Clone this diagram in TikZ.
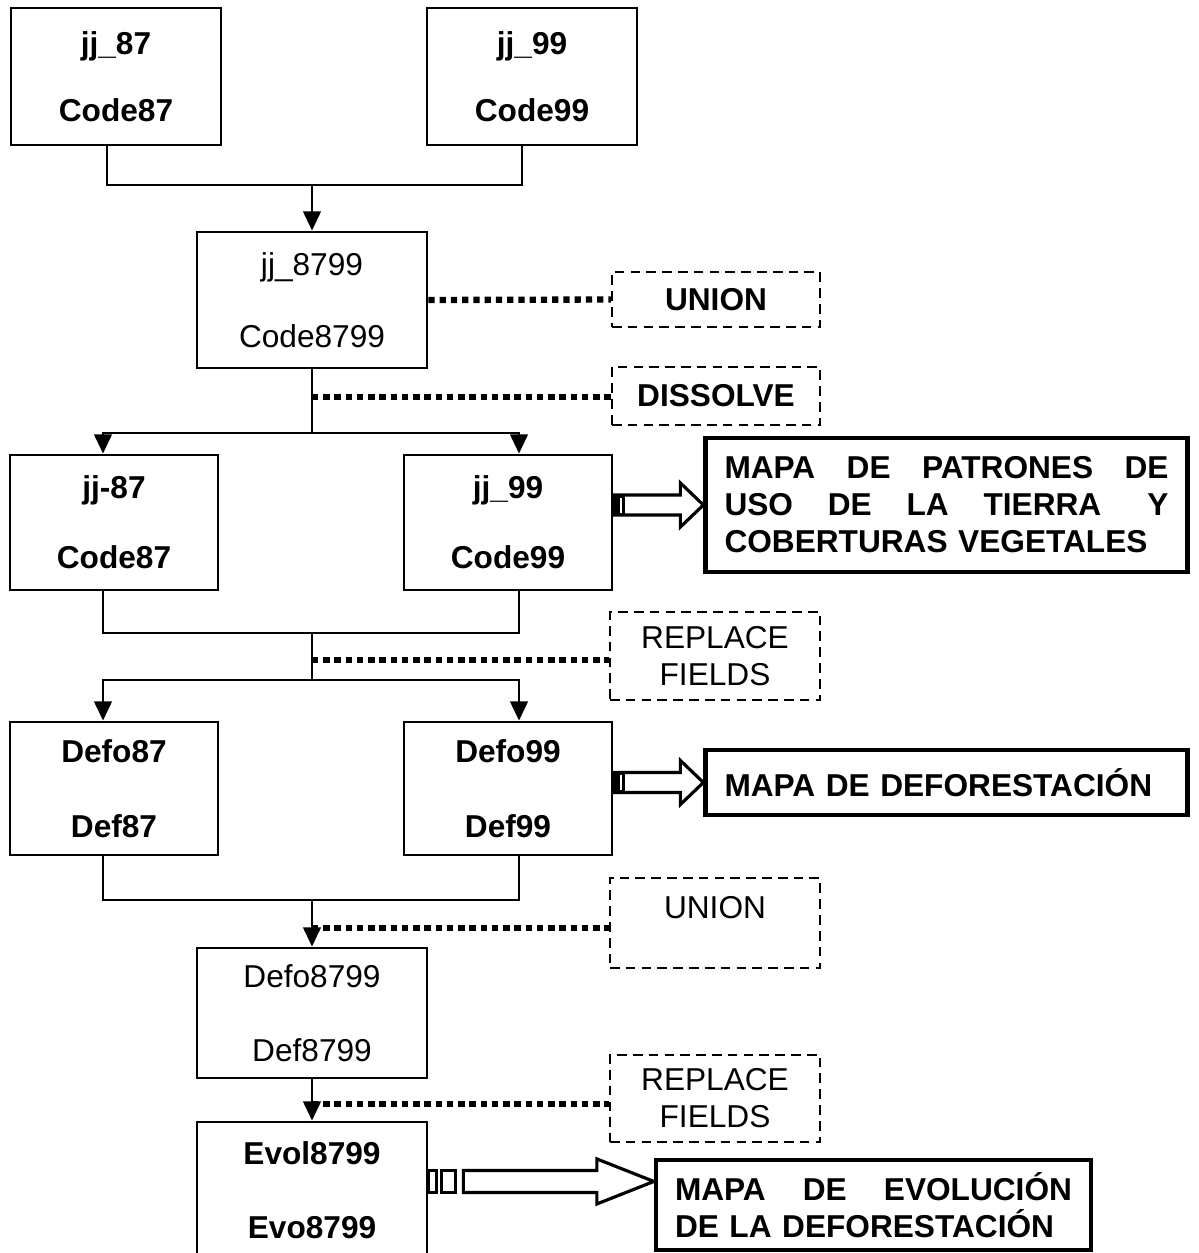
\documentclass[tikz,border=0pt]{standalone}
\usepackage{fontspec}
\setmainfont{Liberation Sans}
\usepackage{tikz}
\usetikzlibrary{arrows.meta,positioning,calc}

\tikzset{
  box/.style={draw, line width=1.6pt, align=center, inner sep=0pt,
    font=\fontsize{18}{21}\selectfont},
  bbox/.style={box, font=\fontsize{18}{21}\selectfont\bfseries},
  opbox/.style={draw, line width=1.3pt, dash pattern=on 5.5pt off 3.5pt,
    align=center, font=\fontsize{18}{21}\selectfont},
  bopbox/.style={opbox, font=\fontsize{18}{21}\selectfont\bfseries},
  mapbox/.style={draw, line width=2.4pt, align=left, inner xsep=0.38cm,
    font=\fontsize{18}{21}\selectfont\bfseries},
  link/.style={line width=1.6pt},
  linkarrow/.style={link, -{Triangle[length=11pt,width=10pt]}},
  dotline/.style={line width=3.6pt, dash pattern=on 3.6pt off 2.8pt},
  hollow/.style={line width=1.8pt, line join=miter}
}

\begin{document}
\begin{tikzpicture}
  \useasboundingbox (0,0) rectangle (23.96,-25.06);
  \clip (0,0) rectangle (23.96,-25.06);

  % layers
  \node (j87) [bbox, minimum width=4.2cm, minimum height=2.74cm] at (2.32,-1.53) {jj\_87\\[17pt]Code87};
  \node (j99) [bbox, minimum width=4.2cm, minimum height=2.74cm] at (10.64,-1.53) {jj\_99\\[17pt]Code99};
  \node (j8799) [box, minimum width=4.6cm, minimum height=2.72cm] at (6.24,-6.0) {jj\_8799\\[20pt]Code8799};
  \node (j87b) [bbox, minimum width=4.16cm, minimum height=2.7cm] at (2.28,-10.45) {jj-87\\[19pt]Code87};
  \node (j99b) [bbox, minimum width=4.16cm, minimum height=2.7cm] at (10.16,-10.45) {jj\_99\\[19pt]Code99};
  \node (defo87) [bbox, minimum width=4.16cm, minimum height=2.66cm] at (2.28,-15.77) {Defo87\\[22pt]Def87};
  \node (defo99) [bbox, minimum width=4.16cm, minimum height=2.66cm] at (10.16,-15.77) {Defo99\\[22pt]Def99};
  \node (defo8799) [box, minimum width=4.6cm, minimum height=2.6cm] at (6.24,-20.26) {Defo8799\\[21pt]Def8799};
  \node (evol) [bbox, minimum width=4.6cm, minimum height=2.72cm] at (6.24,-23.8) {Evol8799\\[21pt]Evo8799};

  % operations
  \node (uni1) [bopbox, minimum width=4.16cm, minimum height=1.1cm] at (14.32,-5.99) {UNION};
  \node (dis) [bopbox, minimum width=4.16cm, minimum height=1.16cm] at (14.32,-7.92) {DISSOLVE};
  \node (rep1) [opbox, minimum width=4.2cm, minimum height=1.76cm] at (14.3,-13.12) {REPLACE\\FIELDS};
  \node (uni2) [opbox, minimum width=4.2cm, inner ysep=6pt, text height=17pt, text depth=22pt] at (14.3,-18.46) {UNION};
  \node (rep2) [opbox, minimum width=4.2cm, minimum height=1.74cm] at (14.3,-21.97) {REPLACE\\FIELDS};

  % maps
  \node (mapa1) [mapbox, text width=8.88cm, minimum height=2.68cm] at (18.93,-10.1)
    {MAPA\hfill DE\hfill PATRONES\hfill DE\\USO\hspace{1.1em}DE\hspace{1.1em}LA\hspace{1.1em}TIERRA\hfill Y\\COBERTURAS VEGETALES};
  \node (mapa2) [mapbox, text width=8.88cm, minimum height=1.3cm] at (18.93,-15.65) {MAPA DE DEFORESTACIÓN};
  \node (mapa3) [mapbox, text width=7.94cm, minimum height=1.8cm] at (17.47,-24.1)
    {MAPA\hfill DE\hfill EVOLUCIÓN\\DE LA DEFORESTACIÓN};

  % junctions
  \coordinate (t1) at (6.24,-3.7);
  \coordinate (s1) at (6.24,-8.66);
  \coordinate (d1) at (6.24,-7.94);
  \coordinate (s2) at (6.24,-12.66);
  \coordinate (s3) at (6.24,-13.6);
  \coordinate (d2) at (6.24,-13.2);
  \coordinate (s4) at (6.24,-18.0);
  \coordinate (d3) at (6.24,-18.56);
  \coordinate (d4) at (6.24,-22.08);

  \draw [link] ([xshift=-0.18cm]j87.south) |- (t1) -| ([xshift=-0.2cm]j99.south);
  \draw [linkarrow] (t1) -- (j8799);
  \draw [link] (j8799.south) -- (s1);
  \draw [linkarrow] (s1) -| ([xshift=-0.22cm]j87b.north);
  \draw [linkarrow] (s1) -| ([xshift=0.22cm]j99b.north);
  \draw [link] ([xshift=-0.22cm]j87b.south) |- (s2) -| ([xshift=0.22cm]j99b.south);
  \draw [link] (s2) -- (s3);
  \draw [linkarrow] (s3) -| ([xshift=-0.22cm]defo87.north);
  \draw [linkarrow] (s3) -| ([xshift=0.22cm]defo99.north);
  \draw [link] ([xshift=-0.22cm]defo87.south) |- (s4) -| ([xshift=0.22cm]defo99.south);
  \draw [linkarrow] (s4) -- (defo8799);
  \draw [linkarrow] (defo8799) -- (evol);

  % dotted leaders
  \draw [dotline] (j8799.east) -- (uni1.west);
  \draw [dotline] (d1) -- (d1 -| dis.west);
  \draw [dotline] (d2) -- (d2 -| rep1.west);
  \draw [dotline] (d3) -- (d3 -| uni2.west);
  \draw [dotline] (d4) -- (d4 -| rep2.west);

  % hollow arrows
  \coordinate (h1) at (j99b.east |- mapa1.west);
  \fill ($(h1)+(0,0.2)$) rectangle ++(0.24,-0.4);
  \draw [white, line width=0.7pt] ($(h1)+(0.15,0.15)$) -- ++(0,-0.3);
  \draw [hollow] ($(h1)+(0,0.2)$) -- ($(mapa1.west)+(-0.46,0.2)$) -- ($(mapa1.west)+(-0.46,0.44)$) -- (mapa1.west)
    -- ($(mapa1.west)+(-0.46,-0.44)$) -- ($(mapa1.west)+(-0.46,-0.2)$) -- ($(h1)+(0,-0.2)$) -- cycle;

  \coordinate (h2) at (defo99.east |- mapa2.west);
  \fill ($(h2)+(0,0.2)$) rectangle ++(0.24,-0.4);
  \draw [white, line width=0.7pt] ($(h2)+(0.15,0.15)$) -- ++(0,-0.3);
  \draw [hollow] ($(h2)+(0,0.2)$) -- ($(mapa2.west)+(-0.46,0.2)$) -- ($(mapa2.west)+(-0.46,0.44)$) -- (mapa2.west)
    -- ($(mapa2.west)+(-0.46,-0.44)$) -- ($(mapa2.west)+(-0.46,-0.2)$) -- ($(h2)+(0,-0.2)$) -- cycle;

  \coordinate (a3) at ($(mapa3.north west)!0.25!(mapa3.south west)$);
  \coordinate (h3) at (evol.east |- a3);
  \draw [hollow] ($(h3)+(0,0.22)$) rectangle ++(0.16,-0.44);
  \draw [hollow] ($(h3)+(0.26,0.22)$) rectangle ++(0.28,-0.44);
  \draw [hollow] ($(h3)+(0.7,0.22)$) -- ($(a3)+(-1.14,0.22)$) -- ($(a3)+(-1.14,0.45)$) -- (a3)
    -- ($(a3)+(-1.14,-0.45)$) -- ($(a3)+(-1.14,-0.22)$) -- ($(h3)+(0.7,-0.22)$) -- cycle;
\end{tikzpicture}
\end{document}
